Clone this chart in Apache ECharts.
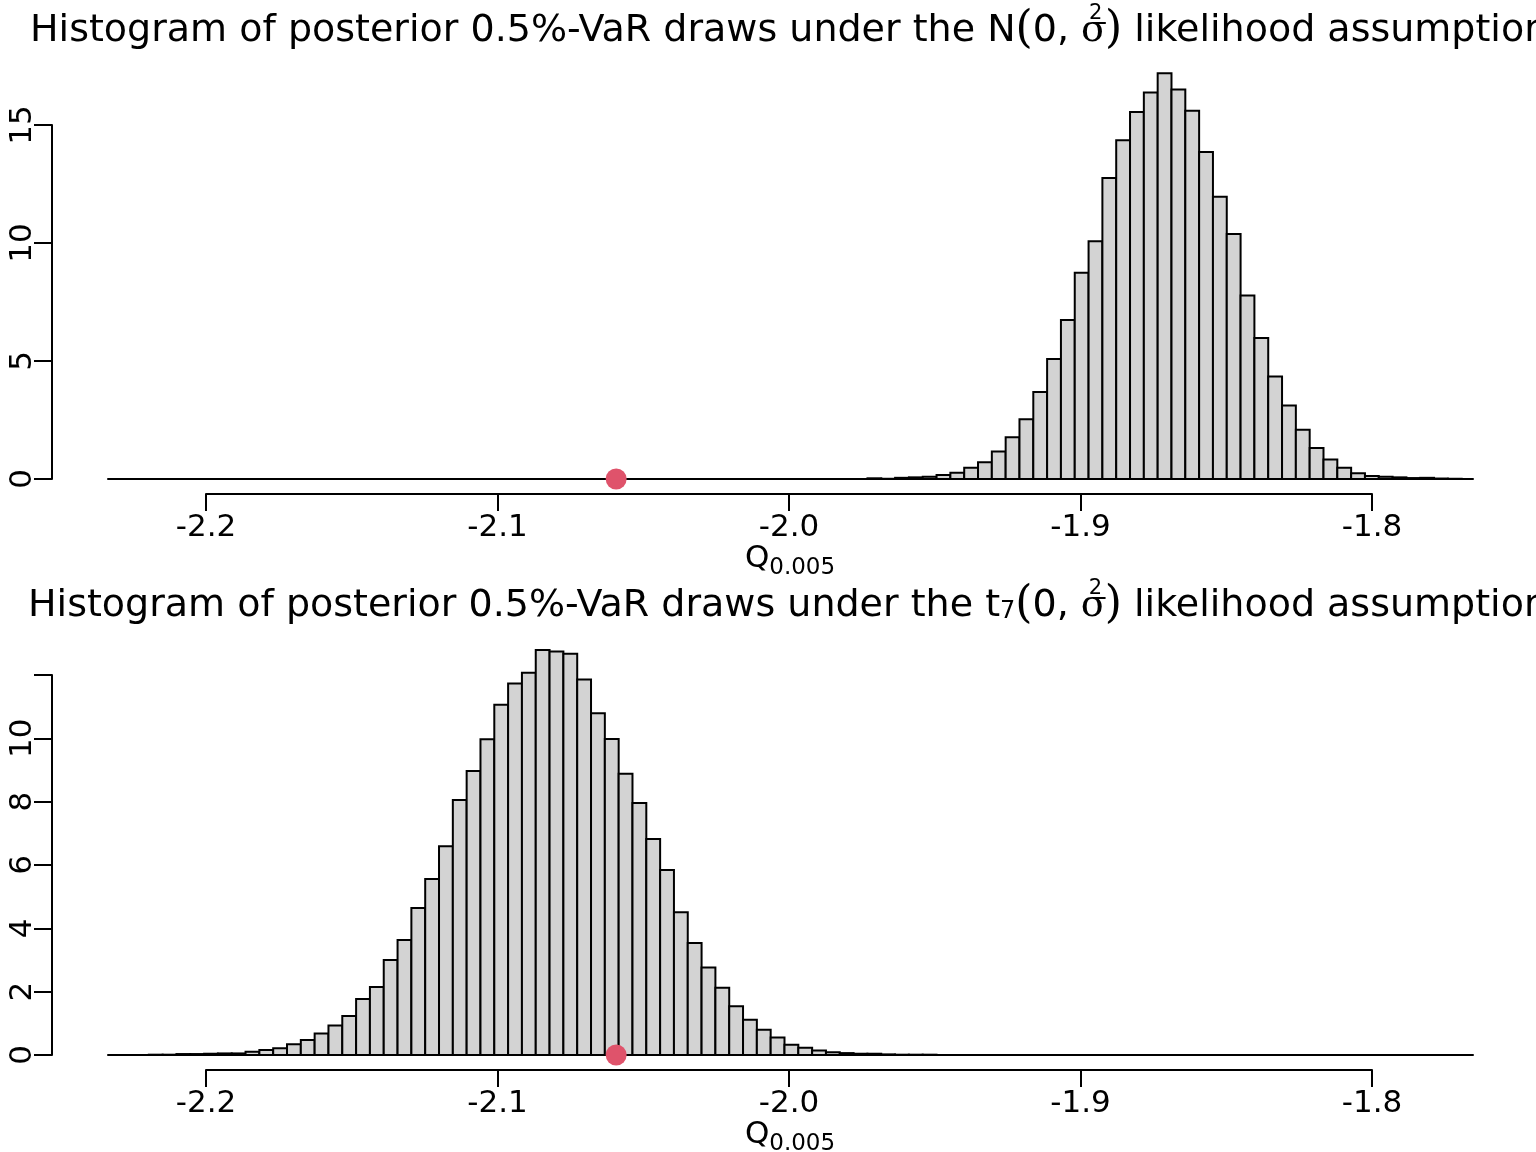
<!DOCTYPE html>
<html>
<head>
<meta charset="utf-8">
<script src="https://cdn.jsdelivr.net/npm/echarts@6/dist/echarts.min.js"></script>
<style>
  html, body { margin: 0; padding: 0; background: #fff; }
  #chart { width: 1536px; height: 1152px; }
</style>
</head>
<body>
<div id="chart"></div>
<script>
// histogram bins (same breaks for both panels)
const binWidth = 0.00474;
const normStart = -1.9731;   // left edge of first drawn bin, normal panel
const tStart = -2.2196;      // left edge of first drawn bin, t panel
const normDensity = [0.03, 0.01, 0.05, 0.07, 0.10, 0.17, 0.27, 0.48, 0.71, 1.16,
  1.77, 2.53, 3.69, 5.08, 6.74, 8.74, 10.07, 12.75, 14.35, 15.55,
  16.38, 17.19, 16.50, 15.60, 13.86, 11.96, 10.38, 7.78, 5.97, 4.34,
  3.11, 2.09, 1.31, 0.83, 0.48, 0.24, 0.13, 0.10, 0.07, 0.04,
  0.05, 0.02, 0.01];
const tDensity = [0.01, 0.01, 0.03, 0.03, 0.04, 0.05, 0.05, 0.10, 0.16, 0.21,
  0.34, 0.47, 0.68, 0.93, 1.23, 1.77, 2.15, 3.00, 3.63, 4.64,
  5.56, 6.59, 8.05, 8.97, 9.97, 11.06, 11.73, 12.07, 12.79, 12.74,
  12.67, 11.86, 10.79, 9.98, 8.88, 7.96, 6.82, 5.84, 4.51, 3.54,
  2.76, 2.12, 1.54, 1.11, 0.80, 0.55, 0.32, 0.23, 0.14, 0.09,
  0.06, 0.04, 0.04, 0.02, 0.01, 0.01, 0.01];
const trueVaR = -2.0593;
const xTicks = [-2.2, -2.1, -2.0, -1.9, -1.8];
const topYTicks = [0, 5, 10, 15];
const bottomYTicks = [0, 2, 4, 6, 8, 10, 12];
const xlim = [-2.2336, -1.7654];

const FONT = 'DejaVu Sans';
const chart = echarts.init(document.getElementById('chart'));

function bins(start, dens) {
  return dens.map((d, i) => [start + i * binWidth, start + (i + 1) * binWidth, d]);
}

function renderBar(params, api) {
  const p0 = api.coord([api.value(0), api.value(2)]);
  const p1 = api.coord([api.value(1), 0]);
  return {
    type: 'rect',
    shape: { x: p0[0], y: p0[1], width: p1[0] - p0[0], height: p1[1] - p0[1] },
    style: { fill: '#D3D3D3', stroke: '#000', lineWidth: 2 }
  };
}

// panel layout in pixels
const panels = [
  { zeroY: 479, unit: 23.6, ymax: 18, ticks: topYTicks, axisY: 494 },
  { zeroY: 1055, unit: 31.67, ymax: 13.5, ticks: bottomYTicks, axisY: 1070 }
];

const grid = [], xAxis = [], yAxis = [];
panels.forEach((p, k) => {
  const yTop = p.ticks[p.ticks.length - 1];
  // data grid
  grid.push({ left: 108, width: 1365, top: p.zeroY - p.ymax * p.unit, height: p.ymax * p.unit });
  // y axis grid
  grid.push({ left: 52, width: 10, top: p.zeroY - yTop * p.unit, height: yTop * p.unit });
  // x axis grid
  grid.push({ left: 206, width: 1166, top: p.axisY - 10, height: 10 });
  const g = k * 3;
  xAxis.push({
    gridIndex: g, type: 'value', min: xlim[0], max: xlim[1],
    axisLine: { show: true, onZero: false, lineStyle: { color: '#000', width: 2 } },
    axisTick: { show: false }, axisLabel: { show: false }, splitLine: { show: false }
  });
  yAxis.push({ gridIndex: g, type: 'value', min: 0, max: p.ymax, show: false, splitLine: { show: false } });

  xAxis.push({ gridIndex: g + 1, type: 'value', min: 0, max: 1, show: false });
  yAxis.push({
    gridIndex: g + 1, type: 'value', min: 0, max: yTop, interval: p.ticks[1] - p.ticks[0],
    axisLine: { show: true, lineStyle: { color: '#000', width: 2 } },
    axisTick: { show: true, length: 18, lineStyle: { color: '#000', width: 2 } },
    axisLabel: {
      rotate: 90, fontSize: 31, fontFamily: FONT, color: '#000', margin: 14,
      formatter: v => (k === 1 && v === 12) ? '' : String(v)
    },
    splitLine: { show: false }
  });

  xAxis.push({
    gridIndex: g + 2, type: 'value', min: xTicks[0], max: xTicks[xTicks.length - 1], interval: 0.1,
    axisLine: { show: true, onZero: false, lineStyle: { color: '#000', width: 2 } },
    axisTick: { show: true, length: 17, lineStyle: { color: '#000', width: 2 } },
    axisLabel: { fontSize: 31, fontFamily: FONT, color: '#000', margin: 18, formatter: v => v.toFixed(1) },
    splitLine: { show: false }
  });
  yAxis.push({ gridIndex: g + 2, type: 'value', min: 0, max: 1, show: false });
});

function titleText(dist) {
  return '{a|Histogram of posterior 0.5%-VaR draws under the }' + dist +
    '{s|(}{a|0, }{g|σ}{sup|2}{s|)}{a| likelihood assumption}';
}
const titleRich = {
  a: { fontSize: 38, fontFamily: FONT, fill: '#000' },
  s: { fontSize: 44, fontFamily: 'DejaVu Serif', fill: '#000', lineHeight: 56 },
  g: { fontSize: 38, fontFamily: 'DejaVu Serif', fill: '#000', width: 8 },
  sup: { fontSize: 21, fontFamily: FONT, fill: '#000', verticalAlign: 'top', lineHeight: 24, width: 16 },
  sub: { fontSize: 24, fontFamily: FONT, fill: '#000', padding: [12, 0, 0, 0] }
};
const qRich = {
  q: { fontSize: 31, fontFamily: FONT, fill: '#000' },
  d: { fontSize: 23, fontFamily: FONT, fill: '#000', padding: [18, 0, 0, 0] }
};

chart.setOption({
  animation: false,
  backgroundColor: '#fff',
  grid: grid,
  xAxis: xAxis,
  yAxis: yAxis,
  series: [
    { type: 'custom', xAxisIndex: 0, yAxisIndex: 0, renderItem: renderBar,
      encode: { x: [0, 1], y: 2 }, data: bins(normStart, normDensity), clip: false },
    { type: 'scatter', xAxisIndex: 0, yAxisIndex: 0, symbolSize: 21, z: 10, clip: false,
      itemStyle: { color: '#DF536B', opacity: 1 }, data: [[trueVaR, 0]] },
    { type: 'custom', xAxisIndex: 3, yAxisIndex: 3, renderItem: renderBar,
      encode: { x: [0, 1], y: 2 }, data: bins(tStart, tDensity), clip: false },
    { type: 'scatter', xAxisIndex: 3, yAxisIndex: 3, symbolSize: 21, z: 10, clip: false,
      itemStyle: { color: '#DF536B', opacity: 1 }, data: [[trueVaR, 0]] }
  ],
  graphic: [
    { type: 'text', x: 30, y: 31, style: { text: titleText('{a|N}'), rich: titleRich, verticalAlign: 'middle' } },
    { type: 'text', x: 28, y: 606, style: { text: titleText('{a|t}{sub|7}'), rich: titleRich, verticalAlign: 'middle' } },
    { type: 'text', x: 790, y: 559, style: { text: '{q|Q}{d|0.005}', rich: qRich, align: 'center', verticalAlign: 'middle' } },
    { type: 'text', x: 790, y: 1135, style: { text: '{q|Q}{d|0.005}', rich: qRich, align: 'center', verticalAlign: 'middle' } }
  ]
});
</script>
</body>
</html>
